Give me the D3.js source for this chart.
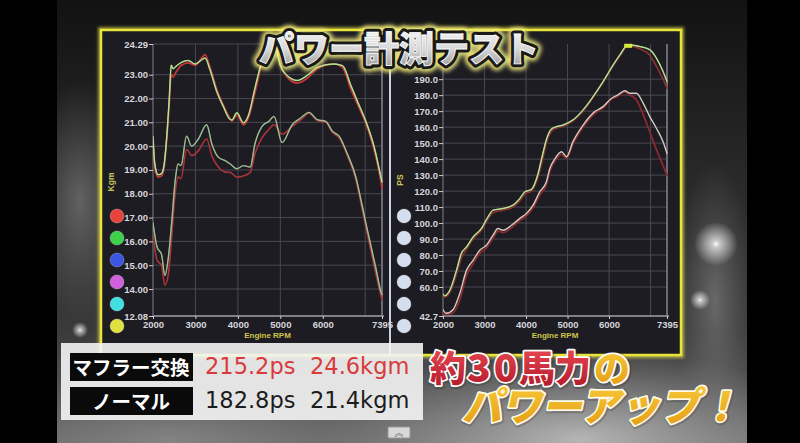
<!DOCTYPE html>
<html><head><meta charset="utf-8">
<script src="https://cdn.jsdelivr.net/npm/d3@7"></script>
<style>body{margin:0;background:#000;overflow:hidden}svg{display:block}</style>
</head><body>
<svg id="c" width="800" height="443"></svg>
<script>
// ---------- data ----------
const rpmTicks = [2000, 3000, 4000, 5000, 6000, 7395];
const rpmGrid = [2000, 3000, 4000, 5000, 6000, 7000, 7395];
const torqueTicks = [24.29, 23, 22, 21, 20, 19, 18, 17, 16, 15, 14, 12.08];
const powerTicks = [42.7, 60, 70, 80, 90, 100, 110, 120, 130, 140, 150, 160, 170, 180, 190];

// torque (kgm) – muffler swap
const torqueModRpm = [2000,2040,2120,2200,2260,2320,2380,2430,2475,2540,2670,2830,2990,3145,3225,3345,3500,3660,3800,3860,3975,4130,4250,4410,4570,4700,4800,4900,5000,5160,5400,5635,5870,6265,6465,6660,6820,7015,7215,7370,7395];
const torqueModMain = [20.4,19.3,18.8,18.85,19.2,20.3,21.9,23.4,23.25,23.35,23.52,23.6,23.45,23.62,23.7,23.2,22.3,21.65,21.15,21.1,21.4,20.98,21.3,22.5,23.6,24.2,24.35,24.1,23.4,22.97,22.76,22.97,23.31,23.45,23.38,22.56,21.87,21.04,19.94,18.7,18.5];
const torqueModRed = [20.3,19.1,18.7,18.75,19.1,20.2,21.7,23.0,22.9,23.1,23.4,23.5,23.4,23.7,23.85,23.3,22.4,21.7,21.2,21.05,21.3,20.9,21.2,22.3,23.5,24.1,24.3,24.1,23.4,22.9,22.65,22.85,23.25,23.45,23.3,22.4,21.75,20.95,19.8,18.5,18.2];
// torque (kgm) – normal
const torqueNorRpm = [2000,2100,2200,2280,2360,2440,2520,2590,2660,2790,2910,3065,3265,3385,3540,3700,3820,3975,4130,4290,4400,4570,4730,4850,5040,5280,5480,5675,5870,6070,6225,6385,6580,6780,6900,7015,7135,7255,7370,7395];
const torqueNorMain = [16.77,15.74,15.46,14.57,15.3,16.8,18.5,19.25,19.18,20.42,20.0,20.29,20.9,20.1,19.53,19.39,19.25,19.05,19.18,19.12,20.08,20.83,21.04,21.25,20.15,20.9,21.18,21.42,21.11,21.04,20.63,20.42,19.67,18.7,17.74,16.77,15.81,14.84,13.81,13.6];
const torqueNorRed = [16.29,15.19,15.0,14.16,14.6,16.2,18.0,18.7,18.63,19.87,19.6,19.8,20.3,19.6,19.12,18.91,18.9,18.7,18.75,18.9,19.67,20.36,20.7,20.9,20.5,20.83,21.1,21.38,21.08,21.0,20.58,20.35,19.6,18.6,17.6,16.6,15.6,14.6,13.5,13.2];

// power (PS) – muffler swap
const powerModRpm = [2000,2040,2160,2325,2440,2565,2725,2925,3085,3205,3445,3685,3850,3970,4130,4290,4400,4500,4600,4700,4890,5130,5375,5615,5855,6100,6260,6460,6740,6980,7140,7300,7395];
const powerModMain = [55.8,54.8,57.9,70.4,80.9,85.0,91.3,96.6,103.9,108.1,109.1,111.2,115.4,119.5,121.0,131,143,153,158.5,160,161.3,164.5,170.8,179.1,188.5,199,205.2,211.5,210.4,208.4,203.2,194.8,188.5];
const powerModRed = [55,54,56.5,68,78,83.5,90,95.5,102.5,106.5,108,110,114,118,120,129,140,151,157,159,160.5,164,170,178.5,188,198.5,204.5,211,209,205,198,190,184.4];
// power (PS) – normal
const powerNorRpm = [2000,2080,2240,2400,2565,2725,2885,3045,3205,3325,3445,3650,3850,4010,4170,4330,4490,4570,4690,4855,4975,5130,5375,5655,5855,6060,6215,6380,6500,6660,6820,6980,7140,7300,7395];
const powerNorMain = [46.4,44.3,46.4,55.8,70.4,76.7,83.0,86.1,92.4,96.6,95.5,98.6,102.9,106.0,111.2,119.5,125.8,134,140,144.6,141.5,150.9,161.3,169.7,172.8,178.1,180.2,182.8,181.2,181.2,175,166.6,159.3,150.9,143.6];
const powerNorRed = [45,43.5,44.5,52,67,74.5,81,84.5,90.5,95,94,97,101.5,104.5,109.5,117.5,124,132,138.5,143,140.5,149.5,160,168.5,172,177.5,179.5,182,180,177,168,157,146,136,130];

const legendColors = ["#e8443c", "#3fd04a", "#3a55e0", "#cf62dc", "#3fe0e0", "#e0e040"];
const rightLegendColors = ["#d4deef", "#d4deef", "#d4deef", "#d4deef", "#d4deef", "#d4deef"];

const title = "パワー計測テスト";
const summaryLabels = ["マフラー交換", "ノーマル"];
const summaryPs = [215.2, 182.8];
const summaryKgm = [24.6, 21.4];
const headline1 = ["約", "30", "馬力", "の"];
const headline2 = "パワーアップ！";

// ---------- setup ----------
const JP = "'Noto Sans CJK JP', 'Noto Sans', sans-serif";
const svg = d3.select("#c");
const defs = svg.append("defs");

function lin(id, x1, y1, x2, y2, stops) {
  const g = defs.append("linearGradient").attr("id", id)
    .attr("x1", x1).attr("y1", y1).attr("x2", x2).attr("y2", y2);
  stops.forEach(s => g.append("stop").attr("offset", s[0]).attr("stop-color", s[1]).attr("stop-opacity", s[2] == null ? 1 : s[2]));
}
function rad(id, stops) {
  const g = defs.append("radialGradient").attr("id", id);
  stops.forEach(s => g.append("stop").attr("offset", s[0]).attr("stop-color", s[1]).attr("stop-opacity", s[2]));
}
lin("bgLin", 0, 0, 0, 1, [[0, "#121212"], [0.35, "#262626"], [0.75, "#3a3a3a"], [1, "#6e6e6e"]]);
rad("glowW", [[0, "#ffffff", 1], [0.15, "#ffffff", 0.7], [1, "#ffffff", 0]]);
rad("cloud", [[0, "#c8c8c8", 0.8], [1, "#a0a0a0", 0]]);
rad("soft", [[0, "#9a9a9a", 0.5], [1, "#808080", 0]]);
lin("titleFill", 0, 0, 0, 1, [[0, "#ffffff"], [0.55, "#d8d8d8"], [1, "#8c8c8c"]]);
lin("redFill", 0, 0, 0, 1, [[0, "#f0505a"], [1, "#b01525"]]);
lin("orgFill", 0, 0, 0, 1, [[0, "#fad040"], [1, "#e49a10"]]);

const fGlow = defs.append("filter").attr("id", "yglow").attr("x", "-20%").attr("y", "-40%").attr("width", "140%").attr("height", "180%");
fGlow.append("feGaussianBlur").attr("stdDeviation", 2.2);
const fFrame = defs.append("filter").attr("id", "fglow").attr("x", "-5%").attr("y", "-5%").attr("width", "110%").attr("height", "110%");
fFrame.append("feGaussianBlur").attr("stdDeviation", 1.6);

// ---------- background ----------
svg.append("rect").attr("width", 800).attr("height", 443).attr("fill", "#000");
svg.append("rect").attr("x", 57).attr("y", 0).attr("width", 690).attr("height", 443).attr("fill", "url(#bgLin)");
const bgc = defs.append("clipPath").attr("id", "bgclip");
bgc.append("rect").attr("x", 57).attr("y", 0).attr("width", 690).attr("height", 443);
const bgG = svg.append("g").attr("clip-path", "url(#bgclip)");
bgG.append("ellipse").attr("cx", 580).attr("cy", 440).attr("rx", 260).attr("ry", 90).attr("fill", "url(#cloud)");
bgG.append("ellipse").attr("cx", 170).attr("cy", 440).attr("rx", 200).attr("ry", 60).attr("fill", "url(#soft)");
bgG.append("ellipse").attr("cx", 80).attr("cy", 200).attr("rx", 50).attr("ry", 120).attr("fill", "url(#soft)");
bgG.append("ellipse").attr("cx", 715).attr("cy", 300).attr("rx", 40).attr("ry", 140).attr("fill", "url(#soft)");
bgG.append("circle").attr("cx", 716).attr("cy", 244).attr("r", 22).attr("fill", "url(#glowW)");
bgG.append("circle").attr("cx", 700).attr("cy", 300).attr("r", 10).attr("fill", "url(#glowW)");
bgG.append("circle").attr("cx", 80).attr("cy", 330).attr("r", 8).attr("fill", "url(#glowW)");

// ---------- frame ----------
const frame = { x: 101, y: 30, w: 580, h: 325 };
svg.append("rect").attr("x", frame.x).attr("y", frame.y).attr("width", frame.w).attr("height", frame.h)
  .attr("fill", "none").attr("stroke", "#f4ee50").attr("stroke-width", 6).attr("opacity", 0.6).attr("filter", "url(#fglow)");
svg.append("rect").attr("x", frame.x).attr("y", frame.y).attr("width", frame.w).attr("height", frame.h)
  .attr("fill", "#1d1c22").attr("stroke", "#e8e43a").attr("stroke-width", 2.5);
svg.append("line").attr("x1", 390).attr("x2", 390).attr("y1", frame.y + 1).attr("y2", frame.y + frame.h - 1)
  .attr("stroke", "#c9d2e6").attr("stroke-width", 2);

// ---------- charts ----------
function chart(opt) {
  const g = svg.append("g");
  const [x0, x1] = opt.x.range();
  const yr = opt.y.range();
  const yBot = yr[0], yTop = yr[yr.length - 1];
  g.append("g").selectAll("line").data(opt.yTicks).join("line")
    .attr("x1", x0).attr("x2", x1).attr("y1", d => opt.y(d)).attr("y2", d => opt.y(d))
    .attr("stroke", "#4a4952").attr("stroke-width", 1);
  g.append("g").selectAll("line").data(rpmGrid).join("line")
    .attr("x1", d => opt.x(d)).attr("x2", d => opt.x(d)).attr("y1", yTop).attr("y2", yBot)
    .attr("stroke", "#4a4952").attr("stroke-width", 1);
  g.append("line").attr("x1", x0).attr("x2", x1 + 2).attr("y1", yBot).attr("y2", yBot).attr("stroke", "#9a9aa4").attr("stroke-width", 1.5);
  g.append("line").attr("x1", x1).attr("x2", x1).attr("y1", yTop).attr("y2", yBot).attr("stroke", "#8a8a96").attr("stroke-width", 1.3);
  g.append("line").attr("x1", x0).attr("x2", x0).attr("y1", yTop).attr("y2", yBot).attr("stroke", "#6a6a74").attr("stroke-width", 1);
  const ay = g.append("g").attr("transform", `translate(${x0},0)`)
    .call(d3.axisLeft(opt.y).tickValues(opt.yTicks).tickFormat(d3.format(opt.fmt)).tickSize(4).tickPadding(1));
  const ax = g.append("g").attr("transform", `translate(0,${yBot})`)
    .call(d3.axisBottom(opt.x).tickValues(rpmTicks).tickFormat(d3.format("d")).tickSize(3).tickPadding(2));
  [ay, ax].forEach(a => {
    a.select(".domain").remove();
    a.selectAll("line").attr("stroke", "#cfcfd6");
    a.selectAll("text").attr("fill", "#d6d6dc").style("font-family", "'Liberation Sans', Arial, sans-serif")
      .style("font-size", "9.5px").style("font-weight", "bold");
  });
  g.append("text").attr("transform", `translate(${opt.ylabX},${opt.ylabY}) rotate(-90)`)
    .attr("text-anchor", "middle").attr("fill", "#c9c45a").style("font-family", "'Liberation Sans', Arial, sans-serif")
    .style("font-size", "8.5px").style("font-weight", "bold").text(opt.ylab);
  g.append("text").attr("x", (x0 + x1) / 2).attr("y", yBot + 22).attr("text-anchor", "middle")
    .attr("fill", "#cfc64a").style("font-family", "'Liberation Sans', Arial, sans-serif")
    .style("font-size", "8px").style("font-weight", "bold").text("Engine RPM");
  g.append("g").selectAll("circle").data(opt.legend).join("circle")
    .attr("cx", opt.legX).attr("cy", (d, i) => 216 + i * 22).attr("r", 7)
    .attr("fill", d => d).attr("stroke", "#ffffff").attr("stroke-opacity", 0.25);
  const cid = "clip" + opt.id;
  defs.append("clipPath").attr("id", cid).append("rect")
    .attr("x", x0).attr("y", yTop - 2).attr("width", x1 - x0 + 1).attr("height", yBot - yTop + 2);
  const lg = g.append("g").attr("clip-path", `url(#${cid})`).attr("fill", "none")
    .attr("stroke-linejoin", "round").attr("stroke-linecap", "round");
  const line = d3.line().x(d => opt.x(d[0])).y(d => opt.y(d[1])).curve(d3.curveMonotoneX);
  opt.series.forEach(s => {
    lg.append("path").datum(d3.zip(s.rpm, s.vals)).attr("d", line)
      .attr("stroke", s.color).attr("stroke-width", s.w).attr("opacity", s.op || 1);
  });
  return g;
}

const xL = d3.scaleLinear().domain([2000, 7395]).range([153, 382]);
const yL = d3.scaleLinear().domain([12.08, 14, 24.29]).range([316, 289, 44]);
const xR = d3.scaleLinear().domain([2000, 7395]).range([443, 667]);
const yR = d3.scaleLinear().domain([42.7, 60, 212]).range([316, 287, 44]);

chart({
  id: "L", x: xL, y: yL, yTicks: torqueTicks, fmt: ".2f", ylab: "Kgm", ylabX: 114, ylabY: 182,
  legend: legendColors, legX: 117,
  series: [
    { rpm: torqueNorRpm, vals: torqueNorRed, color: "#a8343a", w: 1.6 },
    { rpm: torqueNorRpm, vals: torqueNorMain, color: "#7fbf80", w: 1.4 },
    { rpm: torqueNorRpm, vals: torqueNorMain, color: "#c9b4a6", w: 1.0, op: 0.6 },
    { rpm: torqueModRpm, vals: torqueModRed, color: "#c8383a", w: 1.7 },
    { rpm: torqueModRpm, vals: torqueModMain, color: "#8fd27c", w: 1.5 },
    { rpm: torqueModRpm, vals: torqueModMain, color: "#e2e0a0", w: 1.0, op: 0.7 }
  ]
});
const gR = chart({
  id: "R", x: xR, y: yR, yTicks: powerTicks, fmt: ".1f", ylab: "PS", ylabX: 403, ylabY: 180,
  legend: rightLegendColors, legX: 404,
  series: [
    { rpm: powerNorRpm, vals: powerNorRed, color: "#8e2a2e", w: 1.7 },
    { rpm: powerNorRpm, vals: powerNorMain, color: "#d6cabe", w: 1.4 },
    { rpm: powerModRpm, vals: powerModRed, color: "#8a3030", w: 1.7 },
    { rpm: powerModRpm, vals: powerModMain, color: "#86c874", w: 1.5 },
    { rpm: powerModRpm, vals: powerModMain, color: "#ece6ae", w: 1.0, op: 0.75 }
  ]
});
const pk = d3.maxIndex(powerModMain);
gR.append("rect").attr("x", xR(powerModRpm[pk]) - 4).attr("y", yR(powerModMain[pk]) - 1)
  .attr("width", 8).attr("height", 4).attr("fill", "#d6ea40");

// ---------- title ----------
const tg = svg.append("g").style("font-family", JP).style("font-weight", 900).style("font-size", "35px")
  .attr("text-anchor", "middle");
tg.append("text").attr("x", 399).attr("y", 62).text(title)
  .attr("fill", "#f6f080").attr("stroke", "#f6f080").attr("stroke-width", 13).attr("stroke-linejoin", "round")
  .attr("filter", "url(#yglow)").attr("opacity", 0.9);
tg.append("text").attr("x", 399).attr("y", 62).text(title)
  .attr("fill", "#1a1a1a").attr("stroke", "#1a1a1a").attr("stroke-width", 7).attr("stroke-linejoin", "round");
tg.append("text").attr("x", 399).attr("y", 62).text(title)
  .attr("fill", "url(#titleFill)").attr("stroke", "#ffffff").attr("stroke-width", 0.8);

// ---------- summary box ----------
const sb = svg.append("g");
sb.append("rect").attr("x", 61).attr("y", 343).attr("width", 362).attr("height", 77)
  .attr("fill", "#f4f4f4").attr("opacity", 0.9);
summaryLabels.forEach((lab, i) => {
  const yTop = 353 + i * 34;
  sb.append("rect").attr("x", 70).attr("y", yTop).attr("width", 123).attr("height", 28).attr("fill", "#0a0a0a");
  sb.append("text").attr("x", 131).attr("y", yTop + 21.5).attr("text-anchor", "middle")
    .attr("fill", "#fff").style("font-family", JP).style("font-weight", 700).style("font-size", "19.5px")
    .text(lab);
  const col = i === 0 ? "#d93a3c" : "#1c1c1c";
  sb.append("text").attr("x", 205).attr("y", yTop + 21).attr("fill", col)
    .style("font-family", "'DejaVu Sans', sans-serif").style("font-size", "22.5px")
    .text(d3.format(".1f")(summaryPs[i]) + "ps");
  sb.append("text").attr("x", 310).attr("y", yTop + 21).attr("fill", col)
    .style("font-family", "'DejaVu Sans', sans-serif").style("font-size", "22.5px")
    .text(d3.format(".1f")(summaryKgm[i]) + "kgm");
});

// ---------- headline ----------
const hg = svg.append("g").style("font-family", JP).style("font-weight", 900);
const h1 = [
  { x: 430, fs: 36, ls: 0 },
  { x: 467, fs: 39, ls: 3 },
  { x: 519, fs: 36, ls: 0 },
  { x: 594, fs: 36, ls: 0 }
];
headline1.forEach((t, i) => {
  const fill = i === 3 ? "url(#orgFill)" : "url(#redFill)";
  const p = h1[i];
  hg.append("text").attr("x", p.x + 1).attr("y", 383).text(t).style("font-size", p.fs + "px").style("letter-spacing", p.ls + "px")
    .attr("fill", "#333").attr("stroke", "#333").attr("stroke-width", 6).attr("stroke-linejoin", "round").attr("opacity", 0.3);
  hg.append("text").attr("x", p.x).attr("y", 382).text(t).style("font-size", p.fs + "px").style("letter-spacing", p.ls + "px")
    .attr("fill", fill).attr("stroke", "#ffffff").attr("stroke-width", 3.5).attr("stroke-linejoin", "round")
    .style("paint-order", "stroke");
});
const h2 = hg.append("g").attr("transform", "translate(462,421) skewX(-12)");
h2.append("text").attr("x", 1).attr("y", 1).text(headline2).style("font-size", "40px")
  .attr("fill", "#444").attr("stroke", "#444").attr("stroke-width", 6).attr("stroke-linejoin", "round").attr("opacity", 0.3);
h2.append("text").attr("x", 0).attr("y", 0).text(headline2).style("font-size", "40px")
  .attr("fill", "url(#orgFill)").attr("stroke", "#fffbe8").attr("stroke-width", 3.5).attr("stroke-linejoin", "round")
  .style("paint-order", "stroke");

// small player button
svg.append("rect").attr("x", 388).attr("y", 427).attr("width", 22).attr("height", 11).attr("rx", 1)
  .attr("fill", "#d8d8d8").attr("stroke", "#999");
svg.append("text").attr("x", 399).attr("y", 436).attr("text-anchor", "middle").attr("fill", "#666")
  .style("font-size", "9px").style("font-family", JP).text("︽");
</script>
</body></html>
